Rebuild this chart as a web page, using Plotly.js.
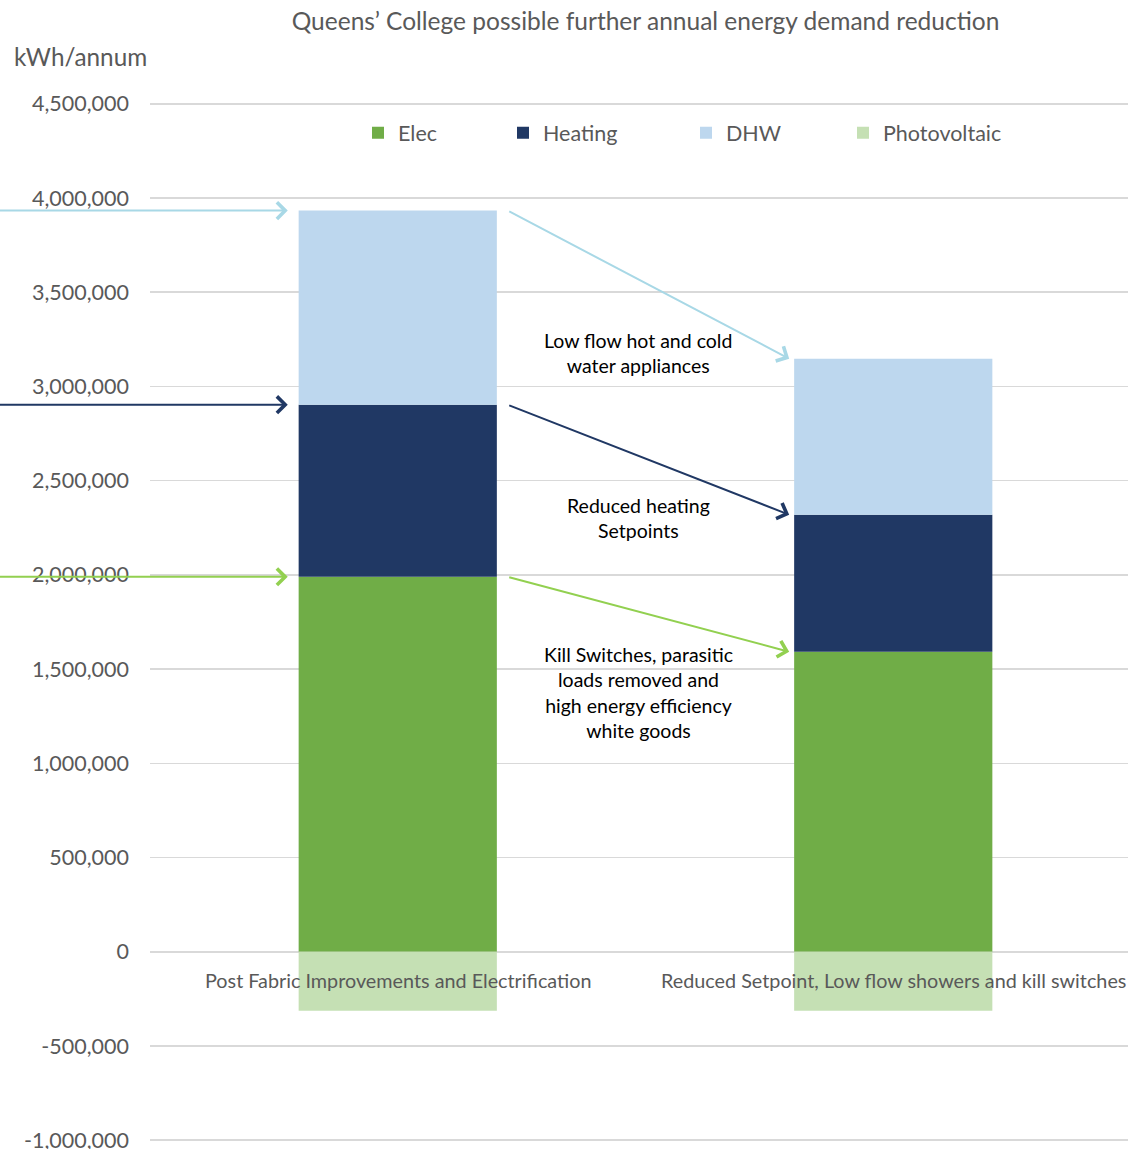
<!DOCTYPE html>
<html>
<head>
<meta charset="utf-8">
<script src="https://cdn.plot.ly/plotly-3.0.1.min.js"></script>
<style>
html,body{margin:0;padding:0;overflow:hidden;background:#fff;width:1128px;height:1149px;}
#chart{width:1141px;height:1149px;}
</style>
</head>
<body>
<div id="chart"></div>
<script>
// ---- data ----
const categories = ["Post Fabric Improvements and Electrification", "Reduced Setpoint, Low flow showers and kill switches"];
const seriesNames = ["Elec", "Heating", "DHW", "Photovoltaic"];
const elec = [1990000, 1592000];
const heating = [913000, 727000];
const dhw = [1030000, 828000];
const photovoltaic = [-313000, -313000];
const tickValues = [-1000000, -500000, 0, 500000, 1000000, 1500000, 2000000, 2500000, 3000000, 3500000, 4000000, 4500000];
const tickLabels = ["-1,000,000", "-500,000", "0", "500,000", "1,000,000", "1,500,000", "2,000,000", "2,500,000", "3,000,000", "3,500,000", "4,000,000", "4,500,000"];
const noteTexts = [
  "Low flow hot and cold<br>water appliances",
  "Reduced heating<br>Setpoints",
  "Kill Switches, parasitic<br>loads removed and<br>high energy efficiency<br>white goods"
];
const titleText = "Queens\u2019 College possible further annual energy demand reduction";
const yLabel = "kWh/annum";

// ---- styles ----
const colors = ["#70AD47", "#203864", "#BDD7EE", "#C5E0B4"];
const arrowColors = ["#92D050", "#203864", "#A8D8E6"];
const FONT = "Lato, 'Open Sans', sans-serif";
const GREY = "#595959";

const values = [elec, heating, dhw, photovoltaic];
const traces = seriesNames.map((n, i) => ({
  type: "bar",
  name: n,
  x: categories,
  y: values[i],
  marker: {color: colors[i]},
  width: 0.4,
  hoverinfo: "skip",
  legend: i === 0 ? "legend" : "legend" + (i + 1)
}));

// cumulative levels
const lvlElec = elec.slice();
const lvlHeat = elec.map((v, i) => v + heating[i]);
const lvlTot = elec.map((v, i) => v + heating[i] + dhw[i]);
const levels = [lvlElec, lvlHeat, lvlTot];

const annotations = [];
levels.forEach((lv, k) => {
  annotations.push({
    x: -0.222, y: lv[0], xref: "x", yref: "y",
    ax: -0.81, ay: lv[0], axref: "x", ayref: "y",
    text: "", showarrow: true, arrowhead: 4, arrowsize: 1.6, arrowwidth: 2,
    arrowcolor: arrowColors[k], standoff: 0, startstandoff: 0
  });
  annotations.push({
    x: 0.79, y: lv[1], xref: "x", yref: "y",
    ax: 0.222, ay: lv[0], axref: "x", ayref: "y",
    text: "", showarrow: true, arrowhead: 4, arrowsize: 1.6, arrowwidth: 2,
    arrowcolor: arrowColors[k], standoff: 0, startstandoff: 0
  });
});

const notePos = [3175000, 2300000, 1375000];
noteTexts.forEach((t, i) => {
  annotations.push({
    x: 0.485, y: notePos[i], xref: "x", yref: "y",
    text: t, showarrow: false,
    font: {family: FONT, size: 19.5, color: "#000000"},
    align: "center", xanchor: "center", yanchor: "middle"
  });
});

categories.forEach((c, i) => {
  annotations.push({
    x: i, y: 0, xref: "x", yref: "y",
    text: c, showarrow: false, yshift: -28,
    font: {family: FONT, size: 19.8, color: GREY},
    xanchor: "center", yanchor: "middle"
  });
});

const topM = 104 - 188.36 * 0.02;
const plotH = 1036 + 2 * 188.36 * 0.02;
const botM = 1149 - topM - plotH;

annotations.push({
  x: (12 - 150) / 991, y: (topM + plotH - 57) / plotH, xref: "paper", yref: "paper",
  text: yLabel, showarrow: false, xanchor: "left", yanchor: "middle",
  font: {family: FONT, size: 24.3, color: GREY}
});

const legendBase = {
  orientation: "h", yanchor: "middle", y: (topM + plotH - 133) / plotH, xanchor: "left",
  font: {family: FONT, size: 21.5, color: GREY},
  bgcolor: "rgba(0,0,0,0)", itemwidth: 30
};
const legX = [374, 519, 702, 859].map(px => (px - 16 - 150) / 991);

const layout = {
  width: 1141, height: 1149,
  margin: {l: 150, r: 0, t: topM, b: botM},
  paper_bgcolor: "#ffffff", plot_bgcolor: "#ffffff",
  font: {family: FONT, color: GREY},
  barmode: "relative",
  title: {
    text: titleText, x: 0.5, xref: "paper", xanchor: "center",
    y: 1 - 21 / 1149, yref: "container", yanchor: "middle",
    font: {family: FONT, size: 24.5, color: GREY}
  },
  xaxis: {
    type: "category", range: [-0.5, 1.5],
    showticklabels: false, showgrid: false, zeroline: false, showline: false, ticks: ""
  },
  yaxis: {
    range: [-1020000, 4520000],
    tickmode: "array", tickvals: tickValues, ticktext: tickLabels,
    showgrid: true, gridcolor: "#D9D9D9", gridwidth: 1.5,
    zeroline: true, zerolinecolor: "#D9D9D9", zerolinewidth: 1.5,
    showline: false, ticks: "", ticklabelstandoff: 20, ticklabeloverflow: "allow",
    tickfont: {family: FONT, size: 21.5, color: GREY}
  },
  showlegend: true,
  legend: Object.assign({}, legendBase, {x: legX[0]}),
  legend2: Object.assign({}, legendBase, {x: legX[1]}),
  legend3: Object.assign({}, legendBase, {x: legX[2]}),
  legend4: Object.assign({}, legendBase, {x: legX[3]}),
  annotations: annotations
};

Plotly.newPlot("chart", traces, layout, {displayModeBar: false, staticPlot: true});
</script>
</body>
</html>
